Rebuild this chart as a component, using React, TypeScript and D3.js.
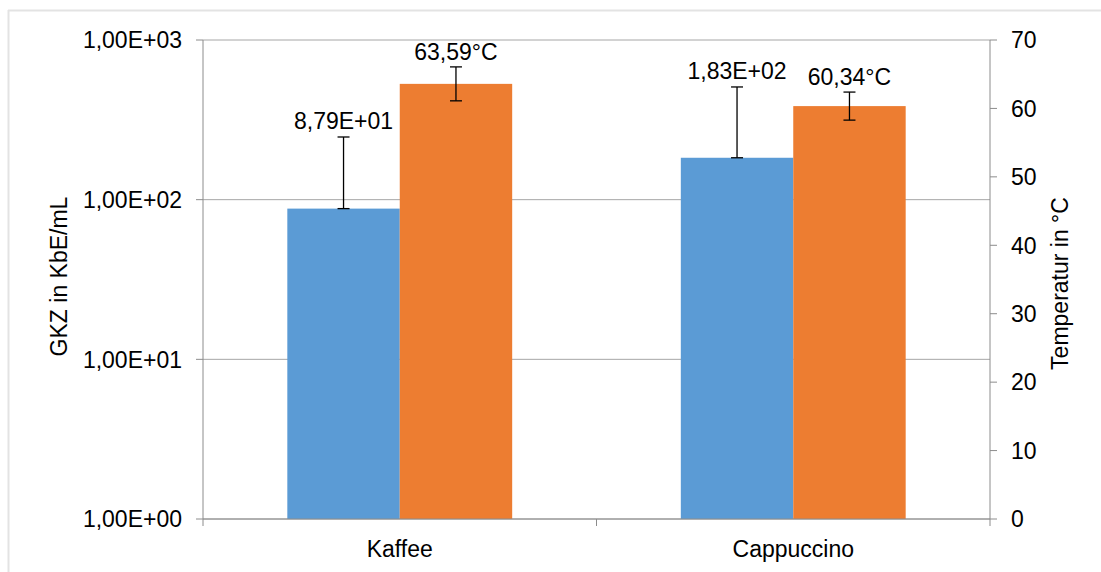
import React from "react";
import * as d3 from "d3";

const categories = ["Kaffee", "Cappuccino"];
const gkzValues = [87.9, 183];
const gkzErrPlus = [159, 325];
const gkzLabels = ["8,79E+01", "1,83E+02"];
const tempValues = [63.59, 60.34];
const tempErr = [2.48, 2.05];
const tempLabels = ["63,59°C", "60,34°C"];
const leftTicks = [1, 10, 100, 1000];
const leftTickLabels = ["1,00E+00", "1,00E+01", "1,00E+02", "1,00E+03"];
const rightTicks = [0, 10, 20, 30, 40, 50, 60, 70];

const W = 1101, H = 572;
const L = 203, R = 990, T = 40, B = 519;
const FONT = "'Liberation Sans', Arial, sans-serif";
const FS = 23;

export default function App() {
  const x = d3.scaleBand<string>().domain(categories).range([L, R]).paddingInner(0).paddingOuter(0);
  const yL = d3.scaleLog().domain([1, 1000]).range([B, T]);
  const yR = d3.scaleLinear().domain([0, 70]).range([B, T]);
  const band = x.bandwidth();
  const barW = band / 3.5;
  const gridColor = "#a6a6a6";
  const axisColor = "#8c8c8c";

  return (
    <svg width={W} height={H} style={{ position: "absolute", left: 0, top: 0, background: "#fff" }} fontFamily={FONT}>
      <rect x={0} y={0} width={W} height={H} fill="#fff" />
      {/* outer border */}
      <line x1={8.5} y1={10} x2={8.5} y2={H} stroke="#e3e3e3" strokeWidth={2} />
      <line x1={8} y1={10.5} x2={W} y2={10.5} stroke="#e3e3e3" strokeWidth={2} />

      {/* gridlines */}
      {leftTicks.map((t) => (
        <line key={"g" + t} x1={L} x2={R} y1={yL(t)} y2={yL(t)} stroke={gridColor} strokeWidth={1} />
      ))}

      {/* bars */}
      {categories.map((c, i) => {
        const x0 = (x(c) as number) + (band - 2 * barW) / 2;
        return (
          <g key={c}>
            <rect x={x0} y={yL(gkzValues[i])} width={barW} height={B - yL(gkzValues[i])} fill="#5b9bd5" />
            <rect x={x0 + barW} y={yR(tempValues[i])} width={barW} height={B - yR(tempValues[i])} fill="#ed7d31" />
          </g>
        );
      })}

      {/* error bars & labels */}
      {categories.map((c, i) => {
        const x0 = (x(c) as number) + (band - 2 * barW) / 2;
        const cb = x0 + barW / 2;
        const co = x0 + barW * 1.5;
        const bTop = yL(gkzValues[i] + gkzErrPlus[i]);
        const bBot = yL(gkzValues[i]);
        const oTop = yR(tempValues[i] + tempErr[i]);
        const oBot = yR(tempValues[i] - tempErr[i]);
        return (
          <g key={"e" + c} stroke="#000" strokeWidth={1.3}>
            <line x1={cb} x2={cb} y1={bTop} y2={bBot} />
            <line x1={cb - 6} x2={cb + 6} y1={bTop} y2={bTop} />
            <line x1={cb - 6} x2={cb + 6} y1={bBot} y2={bBot} />
            <line x1={co} x2={co} y1={oTop} y2={oBot} />
            <line x1={co - 6} x2={co + 6} y1={oTop} y2={oTop} />
            <line x1={co - 6} x2={co + 6} y1={oBot} y2={oBot} />
            <text x={cb} y={bTop - 8} textAnchor="middle" fontSize={FS} fill="#000" stroke="none">{gkzLabels[i]}</text>
            <text x={co} y={oTop - 7} textAnchor="middle" fontSize={FS} fill="#000" stroke="none">{tempLabels[i]}</text>
          </g>
        );
      })}

      {/* left axis */}
      <line x1={L} x2={L} y1={T} y2={B} stroke={axisColor} />
      {leftTicks.map((t, i) => (
        <g key={"l" + t}>
          <line x1={L - 7} x2={L} y1={yL(t)} y2={yL(t)} stroke={axisColor} />
          <text x={182} y={yL(t)} dy="0.36em" textAnchor="end" fontSize={FS} fill="#000">{leftTickLabels[i]}</text>
        </g>
      ))}
      <text transform={`translate(67,${(T + B) / 2 - 3}) rotate(-90)`} textAnchor="middle" fontSize={FS} fill="#000">GKZ in KbE/mL</text>

      {/* right axis */}
      <line x1={R} x2={R} y1={T} y2={B} stroke={axisColor} />
      {rightTicks.map((t) => (
        <g key={"r" + t}>
          <line x1={R} x2={R + 7} y1={yR(t)} y2={yR(t)} stroke={axisColor} />
          <text x={1011} y={yR(t)} dy="0.36em" textAnchor="start" fontSize={FS} fill="#000">{t}</text>
        </g>
      ))}
      <text transform={`translate(1068,${(T + B) / 2 + 4}) rotate(-90)`} textAnchor="middle" fontSize={FS} fill="#000">Temperatur in °C</text>

      {/* bottom axis */}
      <line x1={L} x2={R} y1={B} y2={B} stroke={axisColor} />
      {[L, (x(categories[1]) as number), R].map((v, i) => (
        <line key={"bt" + i} x1={v} x2={v} y1={B} y2={B + 7} stroke={axisColor} />
      ))}
      {categories.map((c) => (
        <text key={"c" + c} x={(x(c) as number) + band / 2} y={557} textAnchor="middle" fontSize={FS} fill="#000">{c}</text>
      ))}
    </svg>
  );
}
